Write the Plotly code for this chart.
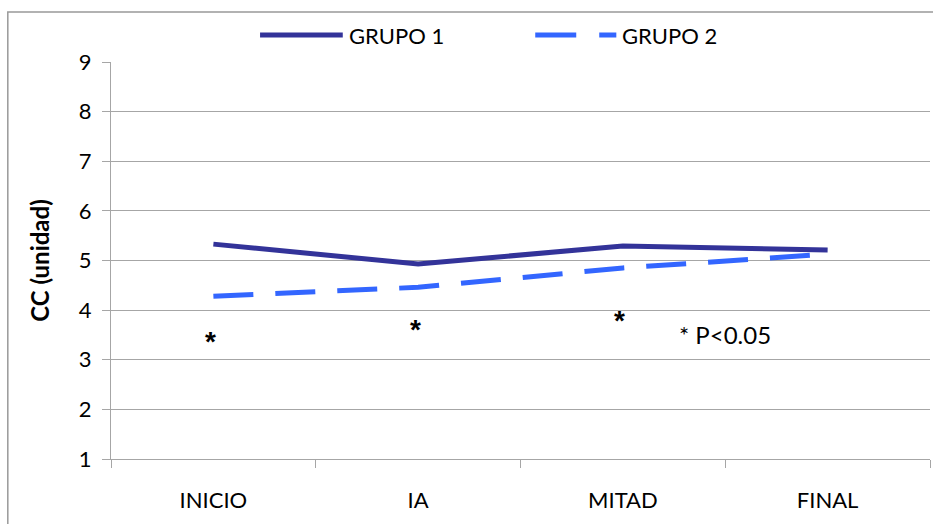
import plotly.graph_objects as go

categories = ["INICIO", "IA", "MITAD", "FINAL"]
grupo1 = [5.33, 4.93, 5.29, 5.21]
grupo2 = [4.28, 4.46, 4.85, 5.13]
sig_y = [3.36, 3.6, 3.8]
y_ticks = [1, 2, 3, 4, 5, 6, 7, 8, 9]

FONT = "Lato, Liberation Sans, sans-serif"
C1 = "#333399"
C2 = "#3366FF"

fig = go.Figure()
fig.add_trace(go.Scatter(x=categories, y=grupo1, mode="lines", name="GRUPO 1",
                         line=dict(color=C1, width=5), showlegend=False))
fig.add_trace(go.Scatter(x=categories, y=grupo2, mode="lines", name="GRUPO 2",
                         line=dict(color=C2, width=5, dash="40px,22px"), showlegend=False))

for i, yv in enumerate(sig_y):
    fig.add_annotation(x=categories[i], y=yv, text="<b>*</b>", showarrow=False,
                       font=dict(size=28, color="black", family="Liberation Sans"), xshift=-3)
fig.add_annotation(x=2.5, y=3.5, text="* P<0.05", showarrow=False,
                   font=dict(size=24, color="black", family=FONT))

# legend (drawn in paper coordinates)
leg_y = 1.068
fig.add_shape(type="line", xref="paper", yref="paper", x0=0.182, x1=0.283, y0=leg_y, y1=leg_y,
              line=dict(color=C1, width=5))
fig.add_annotation(xref="paper", yref="paper", x=0.288, y=leg_y, xanchor="left", yanchor="middle",
                   text="GRUPO 1", showarrow=False, font=dict(size=22, family=FONT, color="black"))
fig.add_shape(type="line", xref="paper", yref="paper", x0=0.518, x1=0.617, y0=leg_y, y1=leg_y,
              line=dict(color=C2, width=5, dash="41px,23px"))
fig.add_annotation(xref="paper", yref="paper", x=0.622, y=leg_y, xanchor="left", yanchor="middle",
                   text="GRUPO 2", showarrow=False, font=dict(size=22, family=FONT, color="black"))

fig.update_layout(
    width=933, height=524,
    margin=dict(l=111, r=3, t=62, b=65, autoexpand=False),
    paper_bgcolor="white", plot_bgcolor="white",
    font=dict(family=FONT, size=18, color="black"),
    showlegend=False,
    shapes=fig.layout.shapes + (
        dict(type="rect", xref="paper", yref="paper", x0=-0.126, x1=1.1, y0=-0.2, y1=1.126,
             line=dict(color="#999999", width=1.5), fillcolor="rgba(0,0,0,0)", layer="below"),),
)
fig.update_xaxes(type="category", showline=True, linecolor="#A6A6A6", linewidth=1,
                 ticks="outside", tickson="boundaries", ticklen=8, tickcolor="#A6A6A6",
                 showgrid=False, tickfont=dict(size=22), range=[-0.5, 3.5], automargin=False,
                 ticklabelstandoff=22)
fig.update_yaxes(range=[1, 9], tickvals=y_ticks, showline=True, linecolor="#A6A6A6",
                 ticks="outside", ticklen=8, tickcolor="#A6A6A6", showgrid=True,
                 gridcolor="#A6A6A6", gridwidth=1, tickfont=dict(size=22),
                 ticklabelstandoff=6,
                 title=dict(text="<b>CC (unidad)</b>", font=dict(size=24), standoff=22),
                 zeroline=False, automargin=False)

fig.write_html("out.html", config={"displayModeBar": False},
               post_script="document.body.style.margin='0';document.body.style.overflow='hidden';")
